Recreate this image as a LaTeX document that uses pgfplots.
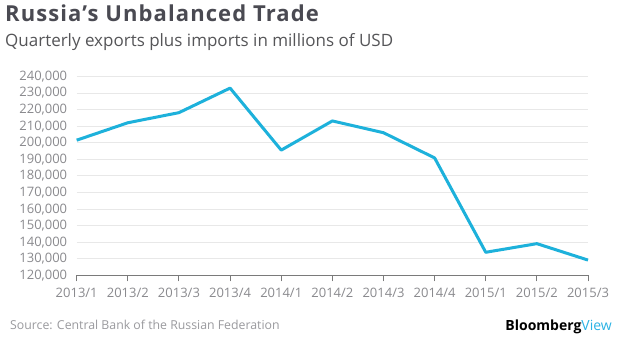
\documentclass[border=0pt]{standalone}
\usepackage{pgfplots}
\pgfplotsset{compat=1.18}
\usepackage{fontspec}
\setmainfont{Open Sans}
\definecolor{linec}{HTML}{1DB1DB}
\definecolor{titlec}{HTML}{4A4A52}
\definecolor{subc}{HTML}{555558}
\definecolor{tickc}{HTML}{8A8A8E}
\definecolor{srcc}{HTML}{9A9A9E}
\definecolor{gridc}{HTML}{E8E8E8}
\definecolor{axc}{HTML}{7A7A7A}
\definecolor{viewc}{HTML}{2BB3E5}
\begin{document}
\begin{tikzpicture}
\useasboundingbox[fill=white] (0,0) rectangle (620pt,355pt);
\begin{axis}[
  at={(76.7pt,79.5pt)}, anchor=south west,
  scale only axis, width=511.3pt, height=199pt,
  xmin=0, xmax=10, ymin=120000, ymax=240000,
  xtick={0,...,10},
  xticklabels={2013/1,2013/2,2013/3,2013/4,2014/1,2014/2,2014/3,2014/4,2015/1,2015/2,2015/3},
  ytick={120000,130000,...,240000},
  /pgf/number format/.cd, fixed, 1000 sep={,}, assume math mode=true,
  /pgfplots/.cd,
  scaled y ticks=false,
  axis x line*=bottom, axis y line*=left,
  y axis line style={draw=none},
  x axis line style={draw=axc, line width=1pt, -},
  ytick style={draw=none},
  xtick style={draw=axc, line width=1pt},
  xtick align=outside, major tick length=6pt,
  ymajorgrids, grid style={gridc, line width=1pt},
  ticklabel style={font=\fontsize{13}{14}\selectfont, text=tickc},
  yticklabel style={xshift=-6pt},
  xticklabel style={yshift=-3pt},
  clip=false,
]
\addplot[linec, line width=3pt, line join=round, no marks] coordinates {
(0,201600) (1,212100) (2,218200) (3,233000) (4,195600) (5,213200)
(6,206100) (7,190900) (8,134000) (9,139200) (10,129300)
};
\end{axis}
\node[anchor=base west, inner sep=0, text=titlec, font=\fontsize{22}{22}\selectfont\bfseries\addfontfeature{LetterSpace=5}] at (5pt,333pt) {Russia's Unbalanced Trade};
\node[anchor=base west, inner sep=0, text=subc, font=\fontsize{17}{17}\selectfont] at (5pt,308pt) {Quarterly exports plus imports in millions of USD};
\node[anchor=base west, inner sep=0, text=srcc, font=\fontsize{12.3}{13}\selectfont] at (10pt,25pt) {Source: Central Bank of the Russian Federation};
\node[anchor=base east, inner sep=0, font=\fontsize{14}{14}\selectfont] at (612pt,24pt) {\textbf{Bloomberg}\textcolor{viewc}{View}};
\end{tikzpicture}
\end{document}
